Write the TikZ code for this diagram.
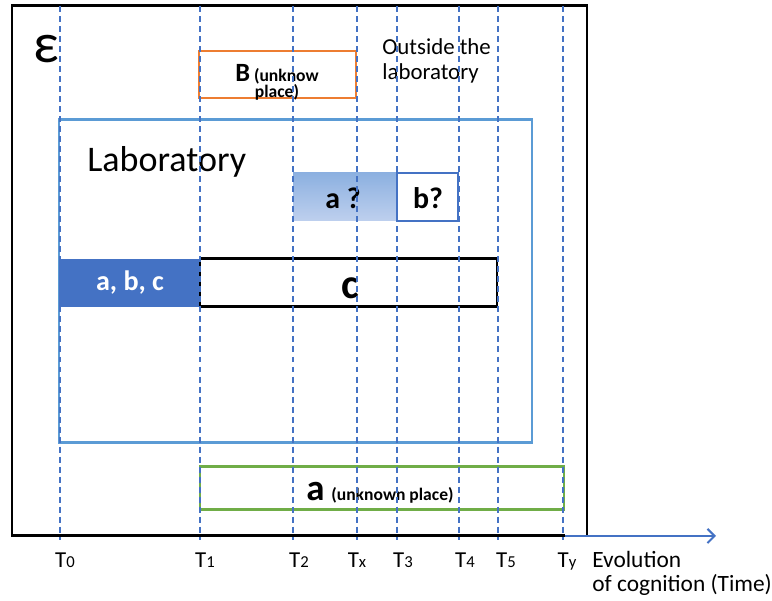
\documentclass[tikz,border=0pt]{standalone}
\usepackage{fontspec}
\setmainfont{Carlito}
\usepackage{tikz}
\usetikzlibrary{arrows.meta}
\definecolor{tblue}{RGB}{68,114,196}
\definecolor{labblue}{RGB}{91,155,213}
\definecolor{placeorange}{RGB}{237,125,49}
\definecolor{placegreen}{RGB}{112,173,71}
\tikzstyle{tline}=[tblue, line width=0.85pt, dash pattern=on 3.4pt off 2.3pt]
\tikzstyle{tlab}=[anchor=base, inner sep=0pt, font=\fontsize{13}{13}\selectfont]
\tikzstyle{big}=[inner sep=0pt, font=\fontsize{17}{17}\selectfont\bfseries]
\tikzstyle{small}=[anchor=base, inner sep=0pt, font=\fontsize{10}{10}\selectfont\bfseries]
\newcommand{\tname}[1]{T{\fontsize{9.5}{9.5}\selectfont #1}}

\begin{document}
\begin{tikzpicture}
        [x=0.02cm,y=0.02cm]
            \useasboundingbox (0,0) rectangle (772,601);
            % environment E
            \draw [line width=1.7pt] (565,65) -- (12,65) -- (12,595) -- (587,595) -- (587,65);
            \node [anchor=base west, inner sep=0pt, font=\fontsize{32}{32}\selectfont] (eps) at (33,538) {ε};
            \draw [placeorange, line width=1.2pt] (199,550) rectangle (356,503);
            \node [anchor=base, inner sep=0pt] (bplace) at (277,519) {{\fontsize{15}{15}\selectfont\bfseries B} {\fontsize{10}{10}\selectfont\bfseries (unknow}};
            \node [small] (bplace2) at (277,503) {place)};
            \node [anchor=base west, inner sep=0pt, font=\fontsize{13}{13}\selectfont] (out1) at (382,546) {Outside the};
            \node [anchor=base west, inner sep=0pt, font=\fontsize{13}{13}\selectfont] (out2) at (382,521) {laboratory};
            % laboratory
            \draw [labblue, line width=1.7pt] (59,481) rectangle (532,158);
            \node [anchor=base west, inner sep=0pt, font=\fontsize{20.5}{20.5}\selectfont] (lab) at (87,429) {Laboratory};
            \shade [top color={rgb,255:red,140;green,176;blue,224}, bottom color={rgb,255:red,190;green,208;blue,238}] (293,428) rectangle (397,380);
            \node [big] (aq) at (343,403) {a ?};
            \draw [tblue, line width=1.2pt, fill=white] (397,428) rectangle (458,380);
            \node [big] (bq) at (428,403) {b?};
            \fill [tblue] (59,342) rectangle (200,294);
            \node [big, white, font=\fontsize{16}{16}\selectfont\bfseries] (abc) at (130,318) {a, b, c};
            \draw [line width=1.7pt] (200,342) rectangle (497,294);
            \node [inner sep=0pt, font=\fontsize{24}{24}\selectfont\bfseries] (c) at (350,313) {c};
            % a outside
            \draw [placegreen, line width=1.7pt] (200,134) rectangle (564,91);
            \node [anchor=base west, inner sep=0pt, font=\fontsize{21}{21}\selectfont\bfseries] (agreen) at (306,100) {a};
            \node [anchor=base west, inner sep=0pt, font=\fontsize{10}{10}\selectfont\bfseries] (agreen2) at (331,100) {(unknown place)};
            % time lines
            \draw [tline] (60,595) -- (60,61);
            \draw [tline] (200,595) -- (200,61);
            \draw [tline] (293,595) -- (293,61);
            \draw [tline] (357,595) -- (357,61);
            \draw [tline] (397,595) -- (397,61);
            \draw [tline] (459,595) -- (459,61);
            \draw [tline] (498,595) -- (498,61);
            \draw [tline] (563,595) -- (563,61);
            \node [tlab] (t0) at (65,33) {\tname{0}};
            \node [tlab] (t1) at (205,33) {\tname{1}};
            \node [tlab] (t2) at (299,33) {\tname{2}};
            \node [tlab] (tx) at (357,33) {\tname{x}};
            \node [tlab] (t3) at (403,33) {\tname{3}};
            \node [tlab] (t4) at (465,33) {\tname{4}};
            \node [tlab] (t5) at (506,33) {\tname{5}};
            \node [tlab] (ty) at (567,33) {\tname{y}};
            \coordinate (tstart) at (565,65);
            \coordinate (tend) at (716,65);
            \draw [tblue, line width=1.2pt, -{Straight Barb[length=4pt,width=8pt]}] (tstart) -- (tend);
            \node [anchor=base west, inner sep=0pt, font=\fontsize{13.3}{13.3}\selectfont] (evo1) at (592,33) {Evolution};
            \node [anchor=base west, inner sep=0pt, font=\fontsize{13.3}{13.3}\selectfont] (evo2) at (592,9) {of cognition (Time)};
        \end{tikzpicture}
\end{document}
